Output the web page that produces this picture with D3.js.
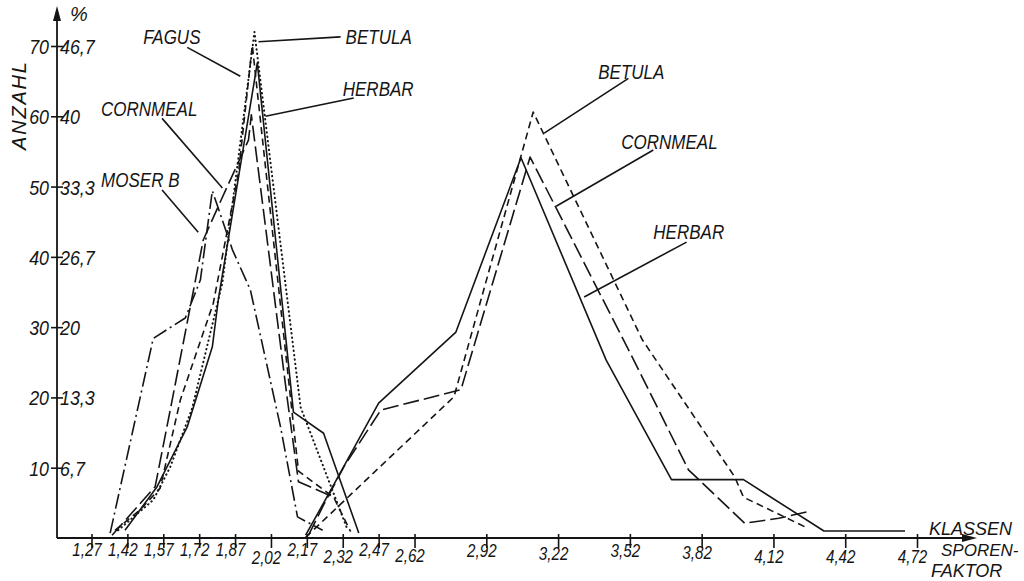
<!DOCTYPE html>
<html>
<head>
<meta charset="utf-8">
<script src="https://cdn.jsdelivr.net/npm/d3@7/dist/d3.min.js"></script>
<style>
  html, body { margin: 0; padding: 0; background: #fff; }
  svg text { font-family: 'Liberation Sans', Arial, sans-serif; font-style: italic; fill: #151515; }
</style>
</head>
<body>
<svg id="chart" width="1024" height="581"></svg>
<script>
(function() {
  'use strict';

  // class limits (Sporenfaktor) printed under the x axis
  var classTicks = [1.27, 1.42, 1.57, 1.72, 1.87, 2.02, 2.17, 2.32, 2.47, 2.62,
    2.92, 3.22, 3.52, 3.82, 4.12, 4.42, 4.72];
  var classLabels = ['1,27', '1,42', '1,57', '1,72', '1,87', '2,02', '2,17', '2,32',
    '2,47', '2,62', '2,92', '3,22', '3,52', '3,82', '4,12', '4,42', '4,72'];

  // Anzahl and the matching percentage (of 150 spores)
  var countTicks = [10, 20, 30, 40, 50, 60, 70];
  var countLabels = ['10', '20', '30', '40', '50', '60', '70'];
  var percentLabels = ['6,7', '13,3', '20', '26,7', '33,3', '40', '46,7'];

  // [sporenfaktor, anzahl]
  var fagus = [[1.381, 1.1], [1.528, 5.4], [1.599, 10.1], [1.691, 18.5],
    [1.817, 36.3], [1.951, 72.0], [2.144, 18.6], [2.341, 1.1]];
  var herbarLeft = [[1.41, 1.1], [1.544, 7.3], [1.67, 15.8], [1.775, 27.2],
    [1.80, 33.9], [1.963, 67.6], [2.114, 17.9], [2.24, 14.9], [2.387, 0.7]];
  var herbarRight = [[2.165, 0.4], [2.278, 7.3], [2.47, 19.2], [2.793, 29.3],
    [3.065, 54.1], [3.421, 25.3], [3.694, 8.3], [3.995, 8.3], [4.331, 1.0], [4.67, 1.0]];
  var betulaLeft = [[1.368, 1.1], [1.473, 4.0], [1.557, 7.1], [1.641, 19.6],
    [1.779, 33.4], [1.884, 51.9], [1.942, 70.1], [2.135, 9.5], [2.282, 5.8], [2.353, 0.9]];
  var betulaRight = [[2.165, 0.1], [2.785, 20.1], [3.116, 60.6], [3.572, 28.2],
    [3.79, 17.2], [3.958, 8.7], [3.995, 5.8], [4.251, 1.6]];
  var cornmealLeft = [[1.356, 0.4], [1.536, 7.3], [1.599, 18.2], [1.737, 42.4],
    [1.808, 47.8], [1.926, 56.6], [1.938, 60.2], [2.089, 19.6], [2.135, 8.0], [2.282, 5.8]];
  var cornmealRight = [[2.177, 0.4], [2.24, 4.7], [2.324, 10.1], [2.479, 18.2],
    [2.814, 21.1], [3.103, 54.2], [3.526, 26.0], [3.765, 9.7], [4.0, 2.1],
    [4.142, 2.8], [4.259, 3.7]];
  var moserB = [[1.348, 0.7], [1.528, 28.4], [1.662, 31.3], [1.725, 36.7],
    [1.775, 49.4], [1.859, 41.0], [1.934, 35.3], [2.06, 15.8], [2.131, 3.0], [2.236, 1.1]];

  // label text anchor and pointer line, both in data units
  var notes = [
    { text: 'FAGUS', at: [1.486, 70.3], from: [1.670, 69.8], to: [1.892, 65.7] },
    { text: 'BETULA', at: [2.332, 70.3], from: [2.311, 71.3], to: [1.968, 70.6] },
    { text: 'HERBAR', at: [2.320, 62.9], from: [2.366, 62.6], to: [1.997, 60.0] },
    { text: 'CORNMEAL', at: [1.310, 60.0], from: [1.565, 59.7], to: [1.817, 49.8] },
    { text: 'MOSER B', at: [1.310, 49.9], from: [1.565, 49.5], to: [1.716, 43.5] },
    { text: 'BETULA', at: [3.388, 65.3], from: [3.514, 65.4], to: [3.162, 57.6] },
    { text: 'CORNMEAL', at: [3.484, 55.3], from: [3.618, 55.2], to: [3.212, 47.2] },
    { text: 'HERBAR', at: [3.618, 42.5], from: [3.757, 42.1], to: [3.329, 34.3] }
  ];

  var styles = {
    solid: null,
    dotted: '0.4 4',
    short: '7 4.5',
    long: '16 5',
    dashdot: '15 4 2 4'
  };

  var series = [
    { data: fagus, style: 'dotted' },
    { data: herbarLeft, style: 'solid' },
    { data: herbarRight, style: 'solid' },
    { data: betulaLeft, style: 'short' },
    { data: betulaRight, style: 'short' },
    { data: cornmealLeft, style: 'long' },
    { data: cornmealRight, style: 'long' },
    { data: moserB, style: 'dashdot' }
  ];

  // per label vertical drop, the hand lettering is not on one line
  var tickDrop = [0, 0, 0, 0, 0, 8, 0, 7, 0, 6, 1, 4, 1, 3, 7, 7, 7];

  var svg = d3.select('#chart');
  var ink = '#151515';

  var x = d3.scaleLinear().domain([1.27, 4.72]).range([91.5, 917]);
  var y = d3.scaleLinear().domain([0, 70]).range([538, 46]);

  var axisX = 57, axisEnd = 977, axisTop = 6;

  /**
   * Squeezes text horizontally, the stencil lettering is narrow.
   * @param {d3.selection} sel
   * @param {Number} factor
   */
  function condense(sel, factor) {
    sel.each(function() {
      var w = this.getComputedTextLength();
      d3.select(this)
        .attr('textLength', w * factor)
        .attr('lengthAdjust', 'spacingAndGlyphs');
    });
    return sel;
  }

  /**
   * Small filled arrow head.
   */
  function arrow(tipX, tipY, dir) {
    var p = dir === 'up' ?
      [[tipX, tipY], [tipX - 4, tipY + 15], [tipX + 4, tipY + 15]] :
      [[tipX, tipY], [tipX - 15, tipY - 4], [tipX - 15, tipY + 4]];
    svg.append('path')
      .attr('d', 'M' + p.join('L') + 'Z')
      .attr('fill', ink);
  }

  // axis lines
  svg.append('line')
    .attr('x1', axisX).attr('x2', axisX)
    .attr('y1', y(0)).attr('y2', axisTop + 8)
    .attr('stroke', ink).attr('stroke-width', 1.8);
  svg.append('line')
    .attr('x1', axisX).attr('x2', axisEnd - 8)
    .attr('y1', y(0)).attr('y2', y(0))
    .attr('stroke', ink).attr('stroke-width', 1.8);
  arrow(axisX, axisTop, 'up');
  arrow(axisEnd, y(0), 'right');

  // x axis ticks and class labels
  var gx = svg.append('g')
    .attr('transform', 'translate(0,' + y(0) + ')')
    .call(d3.axisBottom(x)
      .tickValues(classTicks)
      .tickSize(10)
      .tickFormat(function(d, i) { return classLabels[i]; }));
  gx.select('.domain').remove();
  gx.selectAll('.tick line')
    .attr('y1', -4)
    .attr('stroke', ink).attr('stroke-width', 1.6);
  condense(gx.selectAll('.tick text')
    .attr('font-size', 19)
    .attr('font-family', null)
    .attr('dx', -5)
    .attr('y', function(d, i) { return 18 + tickDrop[i]; })
    .attr('dy', 0), 0.8);

  // y axis: counts to the left, percent to the right
  var gl = svg.append('g')
    .attr('transform', 'translate(' + axisX + ',0)')
    .call(d3.axisLeft(y)
      .tickValues(countTicks)
      .tickSize(6)
      .tickPadding(2)
      .tickFormat(function(d, i) { return countLabels[i]; }));
  var gr = svg.append('g')
    .attr('transform', 'translate(' + axisX + ',0)')
    .call(d3.axisRight(y)
      .tickValues(countTicks)
      .tickSize(6)
      .tickPadding(-3)
      .tickFormat(function(d, i) { return percentLabels[i]; }));
  [gl, gr].forEach(function(g) {
    g.select('.domain').remove();
    g.selectAll('.tick line').attr('stroke', ink).attr('stroke-width', 1.6);
    condense(g.selectAll('.tick text')
      .attr('font-size', 21)
      .attr('font-family', null)
      .attr('dy', '0.36em'), 0.85);
  });

  // axis titles
  svg.append('text')
    .attr('x', 70).attr('y', 21)
    .attr('font-size', 20)
    .text('%');
  svg.append('text')
    .attr('transform', 'translate(26,106) rotate(-90)')
    .attr('text-anchor', 'middle')
    .attr('font-size', 20)
    .attr('textLength', 88)
    .attr('lengthAdjust', 'spacing')
    .text('ANZAHL');
  svg.append('text')
    .attr('x', 929).attr('y', 535)
    .attr('font-size', 18)
    .text('KLASSEN');
  svg.append('text')
    .attr('x', 941).attr('y', 556)
    .attr('font-size', 17)
    .text('SPOREN-');
  svg.append('text')
    .attr('x', 931).attr('y', 577)
    .attr('font-size', 18)
    .text('FAKTOR');

  // curves
  var line = d3.line()
    .x(function(d) { return x(d[0]); })
    .y(function(d) { return y(d[1]); });

  svg.append('g')
    .selectAll('path')
    .data(series)
    .enter()
    .append('path')
    .attr('d', function(s) { return line(s.data); })
    .attr('fill', 'none')
    .attr('stroke', ink)
    .attr('stroke-width', function(s) { return s.style === 'dotted' ? 2 : 1.6; })
    .attr('stroke-linecap', function(s) { return s.style === 'dotted' ? 'round' : 'butt'; })
    .attr('stroke-linejoin', 'round')
    .attr('stroke-dasharray', function(s) { return styles[s.style]; });

  // labels with pointer lines
  var ng = svg.append('g');
  notes.forEach(function(n) {
    ng.append('line')
      .attr('x1', x(n.from[0])).attr('y1', y(n.from[1]))
      .attr('x2', x(n.to[0])).attr('y2', y(n.to[1]))
      .attr('stroke', ink).attr('stroke-width', 1.6);
    condense(ng.append('text')
      .attr('x', x(n.at[0])).attr('y', y(n.at[1]))
      .attr('font-size', 20)
      .text(n.text), 0.85);
  });
})();
</script>
</body>
</html>
